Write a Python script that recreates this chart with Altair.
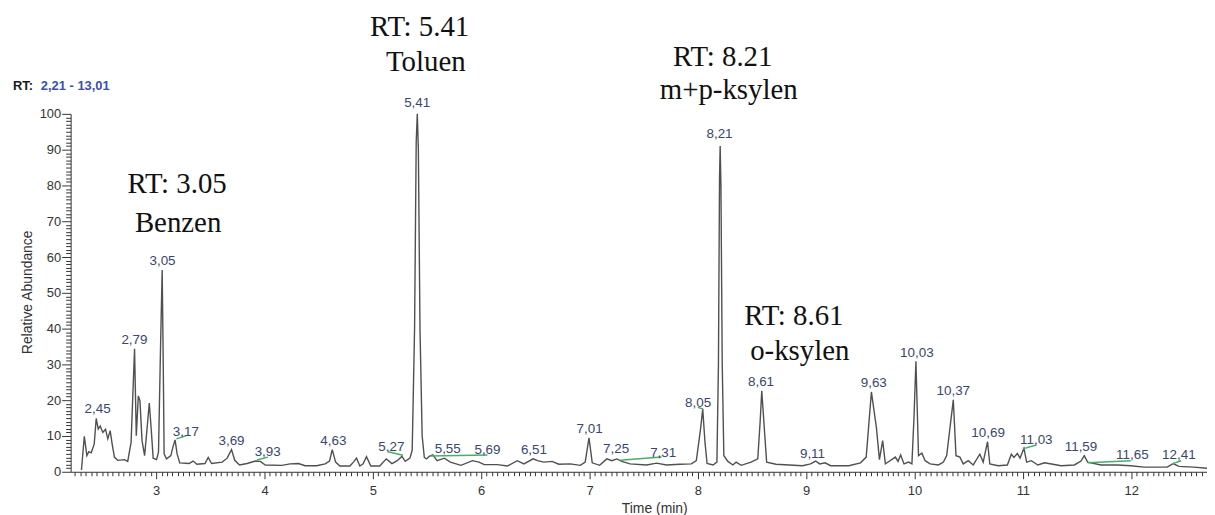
import altair as alt
import pandas as pd

# ---- chromatogram trace (retention time in min, relative abundance in %) ----
time_min = [
    2.310, 2.336, 2.360, 2.378, 2.400, 2.428, 2.446, 2.465, 2.483, 2.507,
    2.532, 2.553, 2.575, 2.593, 2.614, 2.645, 2.706, 2.737, 2.768, 2.800,
    2.816, 2.835, 2.850, 2.869, 2.893, 2.915, 2.936, 2.954, 2.972, 3.003,
    3.021, 3.040, 3.055, 3.065, 3.073, 3.095, 3.135, 3.156, 3.174, 3.193,
    3.217, 3.303, 3.340, 3.376, 3.450, 3.480, 3.511, 3.609, 3.655, 3.695,
    3.725, 3.769, 3.839, 3.915, 3.961, 4.007, 4.160, 4.236, 4.313, 4.374,
    4.481, 4.560, 4.600, 4.625, 4.656, 4.696, 4.788, 4.820, 4.849, 4.880,
    4.910, 4.941, 4.981, 5.063, 5.124, 5.176, 5.225, 5.268, 5.299, 5.342,
    5.363, 5.385, 5.400, 5.410, 5.420, 5.435, 5.455, 5.475, 5.495, 5.520,
    5.553, 5.593, 5.660, 5.715, 5.813, 5.920, 5.980, 6.028, 6.150, 6.241,
    6.333, 6.394, 6.480, 6.520, 6.578, 6.655, 6.716, 6.823, 6.915, 6.960,
    6.995, 7.025, 7.093, 7.160, 7.206, 7.252, 7.297, 7.374, 7.527, 7.619,
    7.711, 7.833, 7.940, 7.986, 8.025, 8.045, 8.066, 8.085, 8.140, 8.176,
    8.190, 8.200, 8.206, 8.213, 8.225, 8.240, 8.277, 8.323, 8.353, 8.400,
    8.491, 8.553, 8.575, 8.590, 8.614, 8.635, 8.721, 8.843, 8.966, 9.040,
    9.088, 9.125, 9.174, 9.226, 9.394, 9.501, 9.554, 9.602, 9.633, 9.648,
    9.676, 9.706, 9.731, 9.760, 9.823, 9.848, 9.872, 9.903, 9.945, 9.976,
    9.995, 10.013, 10.037, 10.068, 10.098, 10.144, 10.221, 10.267, 10.297, 10.358,
    10.383, 10.419, 10.450, 10.496, 10.542, 10.603, 10.634, 10.674, 10.695, 10.771,
    10.857, 10.894, 10.918, 10.949, 10.974, 11.010, 11.035, 11.078, 11.139, 11.200,
    11.277, 11.353, 11.476, 11.537, 11.567, 11.598, 11.721, 11.873, 11.996, 12.118,
    12.332, 12.388, 12.440, 12.578, 12.700,
]
abundance = [
    0.5, 9.9, 4.5, 5.6, 5.3, 7.8, 14.9, 11.9, 12.8, 11.0,
    11.9, 9.2, 11.5, 7.8, 4.1, 3.2, 3.4, 2.9, 8.2, 34.4,
    10.1, 21.2, 19.8, 8.7, 4.5, 11.9, 19.2, 11.9, 3.8, 3.4,
    5.5, 35.0, 56.4, 30.0, 5.0, 3.6, 4.5, 7.1, 8.9, 5.0,
    2.5, 2.3, 3.0, 2.1, 2.3, 4.0, 2.3, 2.7, 3.8, 6.2,
    3.2, 1.9, 2.3, 3.0, 2.9, 1.9, 1.8, 2.2, 2.3, 1.7,
    1.7, 2.2, 3.0, 6.2, 2.7, 1.6, 1.6, 2.7, 3.8, 1.6,
    2.2, 4.2, 1.6, 1.6, 3.6, 2.3, 3.1, 4.3, 2.9, 3.8,
    6.0, 40.0, 92.0, 100.0, 90.0, 40.0, 10.0, 4.0, 3.6, 4.3,
    4.7, 3.1, 3.8, 2.7, 1.8, 3.1, 2.7, 2.0, 2.0, 1.6,
    3.1, 2.2, 3.6, 3.1, 2.7, 2.9, 2.1, 2.2, 1.8, 2.7,
    9.5, 2.5, 1.8, 3.6, 3.1, 3.6, 2.9, 2.2, 1.9, 2.4,
    1.9, 2.1, 2.2, 3.1, 12.0, 17.5, 8.2, 2.3, 1.9, 2.7,
    30.0, 82.0, 91.0, 80.0, 30.0, 4.5, 2.9, 1.9, 2.7, 1.8,
    2.7, 3.6, 14.0, 22.6, 11.9, 2.7, 2.1, 1.9, 1.7, 2.2,
    3.0, 2.2, 2.5, 1.7, 1.7, 2.5, 4.1, 22.3, 15.6, 12.4,
    3.4, 8.7, 2.2, 2.8, 4.1, 2.9, 4.7, 2.2, 2.7, 2.2,
    15.0, 30.9, 4.5, 5.2, 3.1, 2.2, 1.9, 2.7, 4.5, 20.1,
    4.5, 4.1, 2.2, 3.1, 1.9, 4.9, 2.7, 8.4, 2.2, 1.7,
    1.9, 4.9, 4.0, 5.1, 3.8, 6.6, 2.7, 3.1, 1.9, 2.5,
    2.1, 1.7, 1.9, 3.0, 4.5, 2.7, 1.9, 1.9, 1.7, 1.3,
    1.3, 2.3, 1.5, 1.3, 1.0,
]

# ---- peak labels from the instrument software ----
peak_text = ["2,45", "2,79", "3,05", "3,17", "3,69", "3,93", "4,63", "5,27", "5,41",
             "5,55", "5,69", "6,51", "7,01", "7,25", "7,31", "8,05", "8,21", "8,61",
             "9,11", "9,63", "10,03", "10,37", "10,69", "11,03", "11,59", "11,65", "12,41"]
peak_text_time = [2.459, 2.799, 3.058, 3.273, 3.695, 4.029, 4.635, 5.170, 5.409,
                  5.691, 6.058, 6.487, 7.001, 7.245, 7.680, 8.002, 8.200, 8.583,
                  9.058, 9.624, 10.022, 10.358, 10.679, 11.124, 11.537, 12.011, 12.440]
peak_text_abund = [17.5, 36.9, 59.0, 11.0, 8.7, 5.6, 8.7, 6.9, 102.9,
                   6.4, 6.2, 6.2, 11.9, 6.4, 5.3, 19.1, 94.4, 25.0,
                   5.0, 24.9, 33.2, 22.6, 10.8, 9.0, 6.8, 4.7, 4.7]

# ---- green leader lines (label -> peak) ----
lead_t1 = [3.186, 3.930, 5.140, 5.535, 7.282, 8.000, 11.000, 11.598, 12.378]
lead_a1 = [9.2, 3.3, 5.6, 4.4, 3.2, 18.0, 6.4, 2.5, 2.2]
lead_t2 = [3.278, 4.031, 5.278, 6.058, 7.665, 8.050, 11.124, 11.996, 12.461]
lead_a2 = [10.1, 4.1, 4.6, 4.7, 4.1, 17.5, 7.5, 3.1, 3.1]

# ---- compound annotations ----
annot_text = ["RT: 3.05", "Benzen", "RT: 5.41", "Toluen",
              "RT: 8.21", "m+p-ksylen", "RT: 8.61", "o-ksylen"]
annot_time = [3.193, 3.202, 5.431, 5.489, 8.230, 8.285, 8.886, 8.941]
annot_abund = [77.8, 67.0, 121.7, 111.9, 113.3, 104.1, 41.1, 31.2]

# ---- header "RT: 2,21 - 13,01" ----
header_text = ["RT:", "2,21 - 13,01"]
header_time = [1.678, 1.935]
header_abund = [107.8, 107.8]
header_color = ["#1a1a1a", "#3a4fb0"]

trace = pd.DataFrame({"t": time_min, "a": abundance})
peaks = pd.DataFrame({"label": peak_text, "t": peak_text_time, "a": peak_text_abund})
leaders = pd.DataFrame({"t1": lead_t1, "a1": lead_a1, "t2": lead_t2, "a2": lead_a2})
annots = pd.DataFrame({"label": annot_text, "t": annot_time, "a": annot_abund})
header = pd.DataFrame({"label": header_text, "t": header_time, "a": header_abund,
                       "c": header_color})

xscale = alt.Scale(domain=[2.21, 12.70], nice=False, zero=False)
yscale = alt.Scale(domain=[0, 100], nice=False, zero=False)

AX = "#333333"
FONT = "Liberation Sans"

x_major = alt.Axis(orient="bottom", values=list(range(3, 13)), format="d",
                   tickSize=7, tickColor=AX, domainColor=AX, labelColor=AX,
                   labelFont=FONT, labelFontSize=13, labelPadding=6, labelFlush=False,
                   grid=False, title="Time (min)", titleFont=FONT, titleFontSize=14,
                   titleFontWeight="normal", titleColor=AX, titleX=587, titleY=41,
                   titleBaseline="alphabetic")
y_major = alt.Axis(orient="left", values=list(range(0, 101, 10)), format="d",
                   tickSize=9, tickColor=AX, domainColor=AX, labelColor=AX,
                   labelFont=FONT, labelFontSize=13, labelPadding=1, labelFlush=False,
                   grid=False, title="Relative Abundance", titleFont=FONT,
                   titleFontSize=14, titleFontWeight="normal", titleColor=AX,
                   titleX=-43.5, titleY=179, titleBaseline="middle")

x_minor_vals = [round(k * 0.05, 2) for k in range(45, 255) if k % 20 != 0]
y_minor_vals = [v for v in range(1, 100) if v % 10 != 0]

x_minor = alt.Axis(orient="bottom", values=x_minor_vals, tickSize=4, tickColor=AX,
                   labels=False, domain=False, grid=False, title=None)
y_minor = alt.Axis(orient="left", values=y_minor_vals, tickSize=5, tickColor=AX,
                   labels=False, domain=False, grid=False, title=None)

line = alt.Chart(trace).mark_line(color="#505050", strokeWidth=1.4).encode(
    x=alt.X("t:Q", scale=xscale, axis=x_major),
    y=alt.Y("a:Q", scale=yscale, axis=y_major),
)

leader_rules = alt.Chart(leaders).mark_rule(color="#43b06a", strokeWidth=1.5).encode(
    x=alt.X("t1:Q", scale=xscale, axis=x_minor),
    x2="t2:Q",
    y=alt.Y("a1:Q", scale=yscale, axis=y_minor),
    y2="a2:Q",
)

peak_labels = alt.Chart(peaks).mark_text(
    font=FONT, fontSize=13.5, color="#39466e", align="center", baseline="middle"
).encode(
    x=alt.X("t:Q", scale=xscale, axis=None),
    y=alt.Y("a:Q", scale=yscale, axis=None),
    text="label:N",
)

annotations = alt.Chart(annots).mark_text(
    font="Liberation Serif", fontSize=29, color="#111111", align="center",
    baseline="alphabetic"
).encode(
    x=alt.X("t:Q", scale=xscale, axis=None),
    y=alt.Y("a:Q", scale=yscale, axis=None),
    text="label:N",
)

header_marks = alt.Chart(header).mark_text(
    font=FONT, fontSize=13, fontWeight="bold", align="left", baseline="middle"
).encode(
    x=alt.X("t:Q", scale=xscale, axis=None),
    y=alt.Y("a:Q", scale=yscale, axis=None),
    text="label:N",
    color=alt.Color("c:N", scale=None, legend=None),
)

chart = alt.layer(
    line, leader_rules, peak_labels, annotations, header_marks
).resolve_axis(
    x="independent", y="independent"
).properties(
    width=1143,
    height=360,
    autosize=alt.AutoSizeParams(type="none"),
    padding={"left": 63, "top": 105, "right": 0, "bottom": 42},
    background="white",
).configure_view(strokeWidth=0)

chart.save("out.html", embed_options={"renderer": "svg", "actions": False})
